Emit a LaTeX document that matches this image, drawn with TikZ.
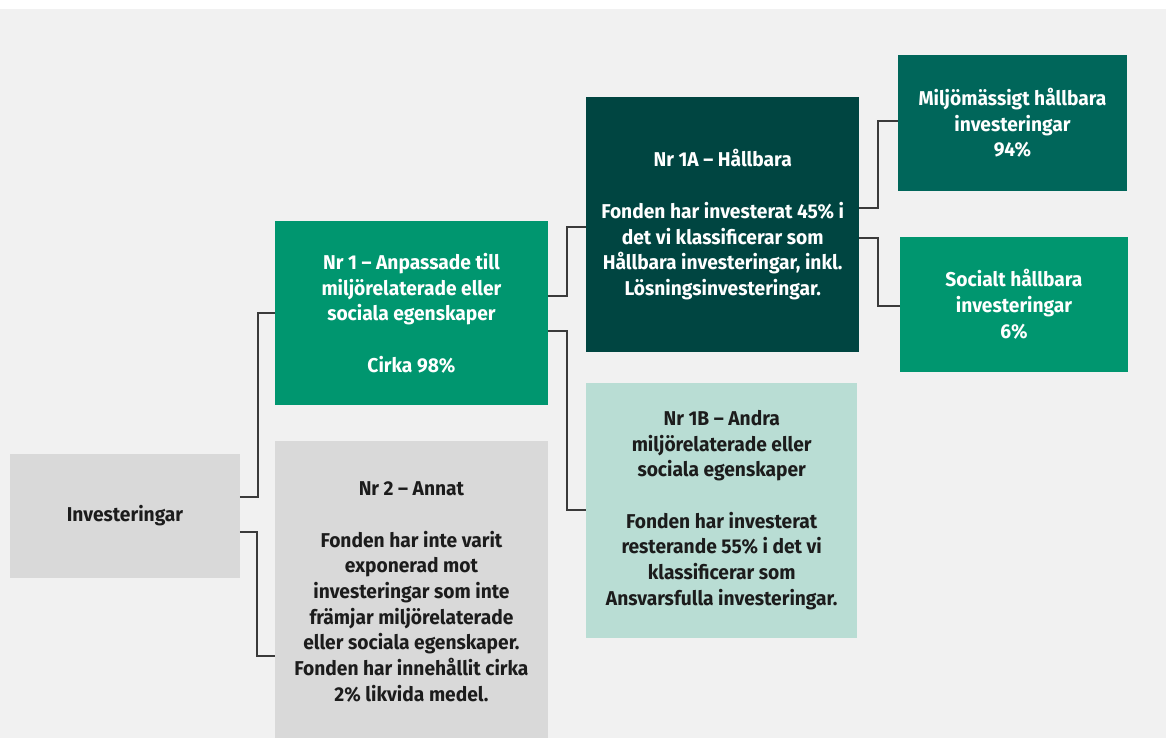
\documentclass[tikz,border=0pt]{standalone}
\usepackage{fontspec}
\setmainfont{Fira Sans}[FakeStretch=0.96]
\usetikzlibrary{calc}
\definecolor{bggray}{HTML}{F1F1F1}
\definecolor{boxgray}{HTML}{D9D9D9}
\definecolor{green1}{HTML}{00966F}
\definecolor{darkteal}{HTML}{004541}
\definecolor{midteal}{HTML}{00665A}
\definecolor{lightteal}{HTML}{B9DDD4}
\definecolor{txtdark}{HTML}{1C1C1C}
\definecolor{conncol}{HTML}{3A3A3A}
\tikzset{
  box/.style={anchor=north west, inner sep=0pt, align=center,
    font=\fontsize{20}{25.7}\selectfont\bfseries},
  whitebox/.style={box, text=white},
  darkbox/.style={box, text=txtdark},
  conn/.style={draw=conncol, line width=2pt}
}
\begin{document}
\begin{tikzpicture}[x=1pt,y=-1pt]
\useasboundingbox (0,0) rectangle (1166,738);
\fill[white] (0,0) rectangle (1166,738);
\fill[bggray] (0,9) rectangle (1166,738);
% boxes
\node[darkbox, fill=boxgray, minimum width=229.5pt, minimum height=123.5pt] (inv) at (10,454) {Investeringar};
\node[whitebox, fill=green1, minimum width=272.5pt, minimum height=184pt] (n1) at (275,221)
  {Nr 1 -- Anpassade till\\ miljörelaterade eller\\ sociala egenskaper\\[25.7pt] Cirka 98\%};
\node[darkbox, fill=boxgray, minimum width=272.5pt, minimum height=302pt] (n2) at (275,440.7)
  {Nr 2 -- Annat\\[25.7pt] Fonden har inte varit\\ exponerad mot\\ investeringar som inte\\ främjar miljörelaterade\\ eller sociala egenskaper.\\ Fonden har innehållit cirka\\ 2\% likvida medel.};
\node[whitebox, fill=darkteal, minimum width=273pt, minimum height=254.4pt] (n1a) at (586,97.3)
  {Nr 1A -- Hållbara\\[25.7pt] Fonden har investerat 45\% i\\ det vi klassificerar som\\ Hållbara investeringar, inkl.\\ Lösningsinvesteringar.};
\node[darkbox, fill=lightteal, minimum width=271pt, minimum height=255pt] (n1b) at (586,382.3)
  {Nr 1B -- Andra\\ miljörelaterade eller\\ sociala egenskaper\\[25.7pt] Fonden har investerat\\ resterande 55\% i det vi\\ klassificerar som\\ Ansvarsfulla investeringar.};
\node[whitebox, fill=midteal, minimum width=228.5pt, minimum height=135.3pt] (miljo) at (898,55)
  {Miljömässigt hållbara\\ investeringar\\ 94\%};
\node[whitebox, fill=green1, minimum width=228.5pt, minimum height=135pt] (soc) at (899.5,236.7)
  {Socialt hållbara\\ investeringar\\ 6\%};
% connectors
\draw[conn] ([yshift=19.3pt]inv.east) -- ++(18,0) |- ([yshift=0.3pt]n1.west);
\draw[conn] ([yshift=-16.5pt]inv.east) -- ++(17,0) |- ([yshift=-64pt]n2.west);
\draw[conn] ([yshift=17.7pt]n1.east) -- ++(19,0) |- ([yshift=-2.2pt]n1a.west);
\draw[conn] ([yshift=-17.7pt]n1.east) -- ++(19,0) |- (n1b.west);
\draw[conn] ([yshift=17.2pt]n1a.east) -- ++(18.7,0) |- ([yshift=1.7pt]miljo.west);
\draw[conn] ([yshift=-12.8pt]n1a.east) -- ++(18.7,0) |- ([yshift=-1.5pt]soc.west);
\end{tikzpicture}
\end{document}
